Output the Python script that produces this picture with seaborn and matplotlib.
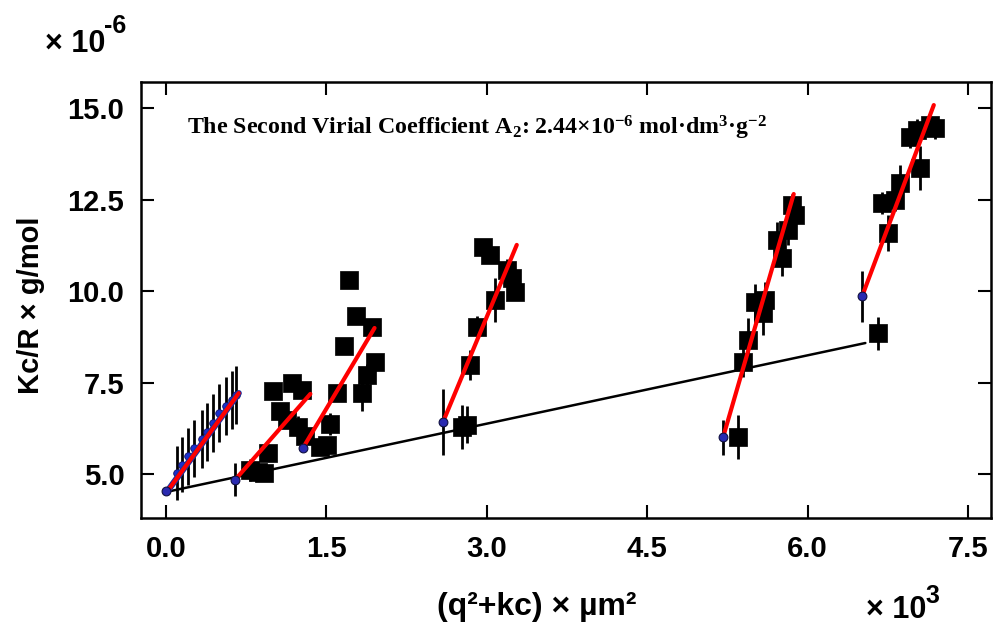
import numpy as np
import pandas as pd
import matplotlib
matplotlib.use("Agg")
import matplotlib.pyplot as plt
import seaborn as sns

# ---- data (x in 10^3 µm², y in 10^-6 g/mol) ----
# extrapolated low-angle series (blue points)
blue_x = [0.10, 0.15, 0.21, 0.26, 0.34, 0.38, 0.44, 0.50, 0.56, 0.62, 0.65]
blue_y = [5.03, 5.25, 5.49, 5.71, 5.96, 6.15, 6.39, 6.67, 6.86, 7.02, 7.16]
blue_err = [0.75, 0.75, 0.78, 0.78, 0.8, 0.8, 0.8, 0.8, 0.8, 0.8, 0.8]

# extrapolated starting points of each concentration series
ext_x = [0.0, 0.645, 1.28, 2.59, 5.21, 6.51]
ext_y = [4.53, 4.84, 5.71, 6.42, 6.01, 9.86]
ext_err = [0.0, 0.45, 0.0, 0.9, 0.48, 0.7]

# measured points (black squares)
sq_x = [0.79, 0.86, 0.92, 0.95, 1.00, 1.07, 1.13, 1.18, 1.23, 1.27, 1.30,
        1.44, 1.51, 1.53, 1.60, 1.66, 1.71, 1.78, 1.83, 1.88, 1.93, 1.95,
        2.77, 2.81, 2.84, 2.91, 2.96, 3.03, 3.08, 3.19, 3.24, 3.26,
        5.35, 5.40, 5.44, 5.51, 5.58, 5.60, 5.71, 5.76, 5.82, 5.85, 5.88,
        6.66, 6.70, 6.75, 6.82, 6.86, 6.96, 7.02, 7.05, 7.14, 7.19]
sq_y = [5.11, 5.05, 5.03, 5.57, 7.27, 6.72, 6.48, 7.49, 6.28, 7.30, 6.04,
        5.74, 5.79, 6.37, 7.21, 8.50, 10.30, 9.32, 7.21, 7.70, 9.02, 8.06,
        6.29, 6.35, 7.98, 9.02, 11.20, 10.98, 9.75, 10.57, 10.35, 9.97,
        6.01, 8.06, 8.66, 9.70, 9.40, 9.75, 11.39, 10.90, 11.67, 12.35, 12.08,
        8.85, 12.40, 11.58, 12.48, 12.95, 14.21, 14.40, 13.36, 14.53, 14.45]
sq_err = [0.3, 0.2, 0.2, 0.0, 0.0, 0.0, 0.0, 0.0, 0.3, 0.0, 0.3,
          0.2, 0.2, 0.3, 0.0, 0.0, 0.0, 0.0, 0.5, 0.3, 0.0, 0.0,
          0.6, 0.5, 0.4, 0.3, 0.0, 0.0, 0.6, 0.3, 0.3, 0.0,
          0.6, 0.4, 0.6, 0.5, 0.6, 0.5, 0.5, 0.5, 0.4, 0.3, 0.3,
          0.45, 0.3, 0.5, 0.3, 0.5, 0.3, 0.3, 0.6, 0.3, 0.3]

# red fit lines (start / end)
red_x0 = [0.01, 0.645, 1.28, 2.59, 5.21, 6.51]
red_y0 = [4.52, 4.84, 5.71, 6.42, 6.01, 9.86]
red_x1 = [0.68, 1.35, 1.95, 3.28, 5.87, 7.18]
red_y1 = [7.21, 7.19, 8.99, 11.26, 12.65, 15.08]

# black zero-angle line
blk_x = [0.0, 6.54]
blk_y = [4.51, 8.58]

xticks = [0.0, 1.5, 3.0, 4.5, 6.0, 7.5]
yticks = [5.0, 7.5, 10.0, 12.5, 15.0]

# ---- figure ----
sns.set_theme(style="ticks")
plt.rcParams['font.family'] = ['Liberation Sans', 'DejaVu Sans']
plt.rcParams['font.weight'] = 'bold'
for k in ['text.color', 'axes.labelcolor', 'xtick.color', 'ytick.color', 'axes.edgecolor']:
    plt.rcParams[k] = 'black'
plt.rcParams['mathtext.fontset'] = 'custom'
plt.rcParams['mathtext.rm'] = 'Liberation Serif:bold'
plt.rcParams['mathtext.it'] = 'Liberation Serif:bold'
plt.rcParams['mathtext.bf'] = 'Liberation Serif:bold'

fig = plt.figure(figsize=(9.95, 6.29), dpi=100)
ax = fig.add_axes([141/995, 1-518/629, (991-141)/995, (518-82)/629])

df_blk = pd.DataFrame({"x": blk_x, "y": blk_y})
sns.lineplot(data=df_blk, x="x", y="y", color="black", lw=1.8, ax=ax,
             estimator=None, sort=False, zorder=2)

# error bars
ax.errorbar(blue_x, blue_y, yerr=blue_err, fmt='none', ecolor='black',
            elinewidth=2.0, capsize=0, zorder=3)
ax.errorbar(sq_x, sq_y, yerr=sq_err, fmt='none', ecolor='black',
            elinewidth=2.0, capsize=0, zorder=3)
ax.errorbar(ext_x, ext_y, yerr=ext_err, fmt='none', ecolor='black',
            elinewidth=2.0, capsize=0, zorder=3)

df_sq = pd.DataFrame({"x": sq_x, "y": sq_y})
sns.scatterplot(data=df_sq, x="x", y="y", marker='s', s=170, color='black',
                edgecolor='black', linewidth=0.5, ax=ax, zorder=4)

df_blue = pd.DataFrame({"x": blue_x, "y": blue_y})
sns.scatterplot(data=df_blue, x="x", y="y", marker='o', s=30, color='#1a2fd0',
                edgecolor='#101060', linewidth=0.6, ax=ax, zorder=4)

# navy line under the first red fit
df_bl = pd.DataFrame({"x": [red_x0[0], red_x1[0]], "y": [red_y0[0], red_y1[0]]})
sns.lineplot(data=df_bl, x="x", y="y", color="#1a2fa0", lw=4.5, ax=ax,
             estimator=None, sort=False, zorder=5)

rows = []
for i in range(len(red_x0)):
    rows.append({"g": i, "x": red_x0[i], "y": red_y0[i]})
    rows.append({"g": i, "x": red_x1[i], "y": red_y1[i]})
df_red = pd.DataFrame(rows)
sns.lineplot(data=df_red, x="x", y="y", units="g", estimator=None, sort=False,
             color="#ff0000", lw=3, ax=ax, zorder=6)

df_ext = pd.DataFrame({"x": ext_x, "y": ext_y})
sns.scatterplot(data=df_ext, x="x", y="y", marker='o', s=40, color='#2a2ab0',
                edgecolor='#101040', linewidth=0.8, ax=ax, zorder=7)

ax.set_xlim(-0.234, 7.715)
ax.set_ylim(3.80, 15.71)
ax.set_xticks(xticks)
ax.set_yticks(yticks)
ax.set_xticklabels([f"{v:.1f}" for v in xticks])
ax.set_yticklabels([f"{v:.1f}" for v in yticks])
ax.tick_params(direction='in', length=9.5, width=1.5, top=True, right=True,
               labelsize=21, pad=12, colors='black')
for lab in ax.get_xticklabels() + ax.get_yticklabels():
    lab.set_fontweight('bold')
for sp in ax.spines.values():
    sp.set_linewidth(1.8)
    sp.set_color('black')

ax.set_xlabel("")
ax.set_ylabel("")
fig.text(31/995, 1-305/629, "Kc/R × g/mol", rotation=90, ha='center', va='center',
         fontsize=21, fontweight='bold')
fig.text(537/995, 1-607/629, "(q²+kc) × µm²", ha='center', va='center',
         fontsize=23, fontweight='bold')
# multiplier labels
fig.text(866/995, 1-618/629, "× 10", ha='left', va='baseline',
         fontsize=22, fontweight='bold')
fig.text(925/995, 1-603/629, "3", ha='left', va='baseline',
         fontsize=18, fontweight='bold')
fig.text(45/995, 1-52/629, "× 10", ha='left', va='baseline',
         fontsize=22, fontweight='bold')
fig.text(104/995, 1-33/629, "-6", ha='left', va='baseline',
         fontsize=18, fontweight='bold')

ax.text(187/995, 1-128/629,
        "The Second Virial Coefficient A$_2$: 2.44×10$^{-6}$ mol·dm$^3$·g$^{-2}$",
        transform=fig.transFigure, ha='left', va='center', fontsize=17.2,
        fontweight='bold', family=['Liberation Serif', 'DejaVu Serif'],
        math_fontfamily='custom', zorder=8)

fig.savefig("out.png", dpi=100)
